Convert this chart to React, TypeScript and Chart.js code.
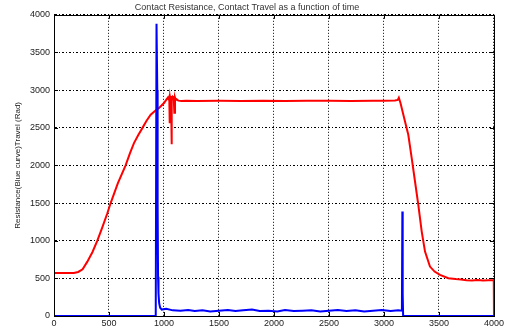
import React, { useEffect, useRef } from "react";
import { Chart, registerables } from "chart.js";

Chart.register(...registerables);

const TITLE = "Contact Resistance, Contact Travel as a function of time";
const Y_LABEL = "Resistance(Blue curve)Travel (Rad)";

const xTicks = [0, 500, 1000, 1500, 2000, 2500, 3000, 3500, 4000];
const yTicks = [0, 500, 1000, 1500, 2000, 2500, 3000, 3500, 4000];

// Travel (red)
const redX = [
  0, 100, 180, 220, 260, 303, 350, 394, 440, 485,
  515, 580, 651, 690, 727, 765, 803, 840, 879, 920,
  955, 1000, 1020, 1035, 1042, 1048, 1052, 1056, 1060, 1064,
  1068, 1072, 1076, 1082, 1088, 1094, 1100, 1106, 1112, 1130,
  1160, 1200, 1300, 1500, 1700, 1900, 2100, 2300, 2500, 2700,
  2900, 3000, 3100, 3125, 3135, 3150, 3176, 3200, 3221, 3252,
  3282, 3312, 3343, 3373, 3418, 3460, 3509, 3585, 3650, 3700,
  3750, 3800, 3850, 3900, 3950, 3998, 4000,
];
const redY = [
  572, 572, 572, 585, 620, 722, 850, 1000, 1180, 1365,
  1500, 1760, 2000, 2160, 2296, 2400, 2495, 2590, 2673, 2725,
  2762, 2828, 2870, 2900, 2880, 2910, 2560, 2900, 2870, 2920,
  2280, 2900, 2910, 2880, 2920, 2700, 2900, 2870, 2880, 2860,
  2855, 2860, 2855, 2858, 2855, 2860, 2855, 2858, 2860, 2855,
  2858, 2860, 2862, 2870, 2900, 2830, 2673, 2530, 2407, 2097,
  1786, 1476, 1121, 855, 656, 590, 545, 501, 490, 485,
  475, 470, 478, 472, 475, 476, 0,
];

// Resistance (blue)
const blueX = [
  0, 925, 932, 936, 939, 942, 946, 950, 956, 965,
  980, 1020, 1080, 1150, 1220, 1280, 1350, 1420, 1500, 1580,
  1650, 1720, 1800, 1870, 1950, 2030, 2100, 2180, 2260, 2340,
  2420, 2500, 2580, 2660, 2740, 2820, 2900, 2980, 3060, 3130,
  3163, 3167, 3170, 3174, 4000,
];
const blueY = [
  0, 0, 3880, 3880, 3000, 1500, 520, 300, 170, 110,
  85, 95, 75, 70, 80, 65, 75, 60, 70, 80,
  65, 75, 85, 65, 70, 60, 80, 65, 70, 75,
  60, 70, 80, 65, 75, 60, 70, 80, 65, 75,
  70, 1387, 300, 0, 0,
];

const FONT = "'Liberation Sans', Arial, Helvetica, sans-serif";

const framePlugin = {
  id: "frame",
  afterDraw(chart: any) {
    const { ctx, chartArea: a, scales } = chart;
    ctx.save();
    ctx.strokeStyle = "#000";
    ctx.lineWidth = 1;
    ctx.setLineDash([]);
    ctx.beginPath();
    const tl = 4;
    for (const v of xTicks) {
      const px = Math.round(scales.x.getPixelForValue(v)) + 0.5;
      ctx.moveTo(px, a.bottom);
      ctx.lineTo(px, a.bottom - tl);
      ctx.moveTo(px, a.top);
      ctx.lineTo(px, a.top + tl);
    }
    for (const v of yTicks) {
      const py = Math.round(scales.y.getPixelForValue(v)) + 0.5;
      ctx.moveTo(a.left, py);
      ctx.lineTo(a.left + tl, py);
      ctx.moveTo(a.right, py);
      ctx.lineTo(a.right - tl, py);
    }
    ctx.stroke();
    ctx.strokeRect(Math.round(a.left) + 0.5, Math.round(a.top) + 0.5, Math.round(a.width), Math.round(a.height));
    ctx.restore();
  },
};

export default function App() {
  const ref = useRef<HTMLCanvasElement | null>(null);

  useEffect(() => {
    if (!ref.current) return;
    const red = redX.map((x, i) => ({ x, y: redY[i] }));
    const blue = blueX.map((x, i) => ({ x, y: blueY[i] }));
    const chart = new Chart(ref.current, {
      type: "scatter",
      data: {
        datasets: [
          {
            label: "Resistance",
            data: blue,
            showLine: true,
            borderColor: "#0000ff",
            backgroundColor: "#0000ff",
            borderWidth: 2,
            pointRadius: 0,
            tension: 0,
            clip: false,
          },
          {
            label: "Travel",
            data: red,
            showLine: true,
            borderColor: "#ff0000",
            backgroundColor: "#ff0000",
            borderWidth: 2,
            pointRadius: 0,
            tension: 0,
            clip: false,
          },
        ],
      },
      options: {
        animation: false,
        responsive: false,
        devicePixelRatio: 1,
        layout: { padding: { left: 0, right: 12, top: 0, bottom: 0 } },
        plugins: {
          legend: { display: false },
          tooltip: { enabled: false },
          title: {
            display: true,
            text: TITLE,
            color: "#333",
            font: { family: FONT, size: 9, weight: "normal" },
            padding: { top: 2, bottom: 2 },
          },
        },
        scales: {
          x: {
            type: "linear",
            min: 0,
            max: 4000,
            afterBuildTicks: (s: any) => {
              s.ticks = xTicks.map((v) => ({ value: v }));
            },
            afterFit: (s: any) => {
              s.height = 13;
            },
            ticks: {
              color: "#222",
              font: { family: FONT, size: 9 },
              padding: 2,
              maxRotation: 0,
              autoSkip: false,
              callback: (v: any) => String(v),
            },
            grid: {
              color: "#000",
              lineWidth: 1,
              drawTicks: false,
            },
            border: { display: true, color: "#000", width: 1, dash: [1, 2] },
          },
          y: {
            type: "linear",
            min: 0,
            max: 4000,
            afterBuildTicks: (s: any) => {
              s.ticks = yTicks.map((v) => ({ value: v }));
            },
            afterFit: (s: any) => {
              s.width = 54;
            },
            ticks: {
              color: "#222",
              font: { family: FONT, size: 9 },
              padding: 4,
              autoSkip: false,
              callback: (v: any) => String(v),
            },
            grid: {
              color: "#000",
              lineWidth: 1,
              drawTicks: false,
            },
            border: { display: true, color: "#000", width: 1, dash: [2, 2, 1, 2] },
            title: {
              display: true,
              text: Y_LABEL,
              color: "#222",
              font: { family: FONT, size: 8 },
              padding: { top: 13, bottom: 0 },
            },
          },
        },
      },
      plugins: [framePlugin],
    });
    return () => chart.destroy();
  }, []);

  return (
    <div style={{ position: "absolute", left: 0, top: 0, width: 506, height: 329, background: "#fff" }}>
      <canvas ref={ref} width={506} height={329} style={{ display: "block" }} />
    </div>
  );
}
